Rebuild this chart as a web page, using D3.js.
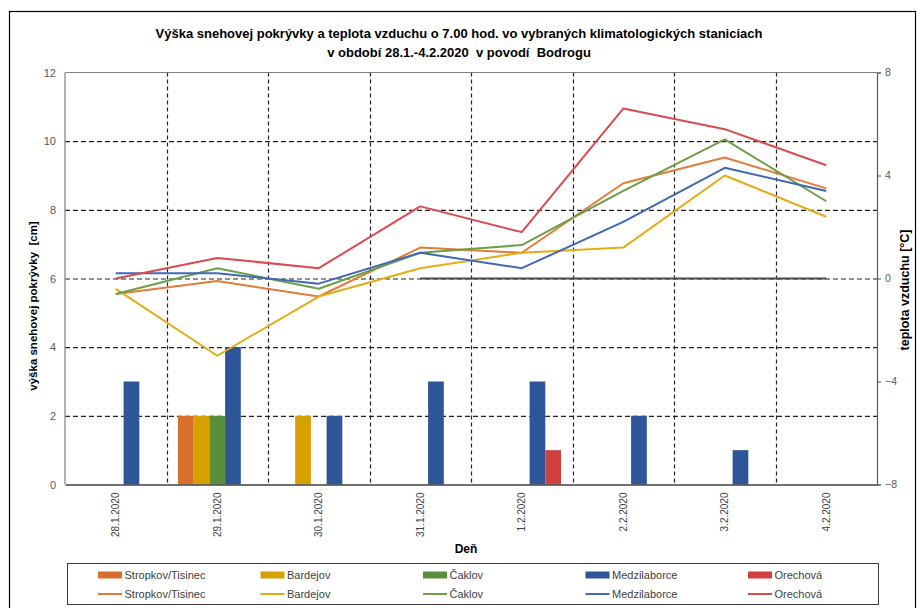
<!DOCTYPE html>
<html>
<head>
<meta charset="utf-8">
<script src="https://cdn.jsdelivr.net/npm/d3@7"></script>
<style>
  html, body { margin: 0; padding: 0; background: #fff; }
  svg { display: block; font-family: "Liberation Sans", Arial, sans-serif; }
  svg text { white-space: pre; }
</style>
</head>
<body>
<svg id="chart" width="920" height="608"></svg>
<script>
// Dni merania
const days = ["28.1.2020", "29.1.2020", "30.1.2020", "31.1.2020", "1.2.2020", "2.2.2020", "3.2.2020", "4.2.2020"];
const stations = ["Stropkov/Tisinec", "Bardejov", "Čaklov", "Medzilaborce", "Orechová"];

// Výška snehovej pokrývky [cm] (null = bez snehu)
const snowStropkov     = [null, 2, null, null, null, null, null, null];
const snowBardejov     = [null, 2, 2, null, null, null, null, null];
const snowCaklov       = [null, 2, null, null, null, null, null, null];
const snowMedzilaborce = [3, 4, 2, 3, 3, 2, 1, null];
const snowOrechova     = [null, null, null, null, 1, null, null, null];

// Teplota vzduchu o 7.00 hod. [°C]
const tempStropkov     = [-0.6, -0.1, -0.7, 1.2, 1.0, 3.7, 4.7, 3.5];
const tempBardejov     = [-0.4, -3.0, -0.7, 0.4, 1.0, 1.2, 4.0, 2.4];
const tempCaklov       = [-0.6, 0.4, -0.4, 1.0, 1.3, 3.4, 5.4, 3.0];
const tempMedzilaborce = [0.2, 0.2, -0.2, 1.0, 0.4, 2.2, 4.3, 3.4];
const tempOrechova     = [0.0, 0.8, 0.4, 2.8, 1.8, 6.6, 5.8, 4.4];
const zeroLine         = [null, null, null, 0, 0, 0, 0, 0];

const snowTicks = [0, 2, 4, 6, 8, 10, 12];
const tempTicks = [-8, -4, 0, 4, 8];

const snowSeries = [snowStropkov, snowBardejov, snowCaklov, snowMedzilaborce, snowOrechova];
const tempSeries = [tempStropkov, tempBardejov, tempCaklov, tempMedzilaborce, tempOrechova];
const barColors  = ["#D6702C", "#D6A100", "#5B8E3A", "#2E5597", "#D04040"];
const lineColors = ["#E27C3A", "#E2AC14", "#6C9E46", "#4068B4", "#DA4A4E"];

const svg = d3.select("#chart");
const plotL = 65, plotR = 877, plotT = 72.5, plotB = 484.5;

const x = d3.scaleBand().domain(days).range([plotL, plotR]).padding(0);
const xInner = d3.scaleBand().domain(stations).range([0, x.bandwidth()]).paddingInner(0).paddingOuter(0.73);
const ySnow = d3.scaleLinear().domain([0, 12]).range([plotB, plotT]);
const yTemp = d3.scaleLinear().domain([-8, 8]).range([plotB, plotT]);

// outer frame
svg.append("rect").attr("x", 9.5).attr("y", 11.5).attr("width", 906).attr("height", 610)
  .attr("fill", "none").attr("stroke", "#000").attr("stroke-width", 1.2);

// title
const title = svg.append("text").attr("text-anchor", "middle").attr("font-weight", "bold")
  .attr("font-size", 13).attr("fill", "#000");
title.append("tspan").attr("x", 459).attr("y", 38).text("Výška snehovej pokrývky a teplota vzduchu o 7.00 hod. vo vybraných klimatologických staniciach");
title.append("tspan").attr("x", 459).attr("y", 57).text("v období 28.1.-4.2.2020  v povodí  Bodrogu");

// horizontal dashed grid
svg.append("g").selectAll("line").data(snowTicks.filter(t => t > 0 && t < 12)).join("line")
  .attr("x1", plotL).attr("x2", plotR)
  .attr("y1", d => ySnow(d) + 0.5).attr("y2", d => ySnow(d) + 0.5)
  .attr("stroke", "#222").attr("stroke-width", 1.2).attr("stroke-dasharray", "5,3");

// vertical dashed grid at day boundaries
svg.append("g").selectAll("line").data(days.slice(1)).join("line")
  .attr("x1", d => Math.round(x(d)) + 0.5).attr("x2", d => Math.round(x(d)) + 0.5)
  .attr("y1", plotT).attr("y2", plotB)
  .attr("stroke", "#222").attr("stroke-width", 1.2).attr("stroke-dasharray", "4,3");

// bars: snow depth
const barGroups = svg.append("g").selectAll("g").data(snowSeries).join("g")
  .attr("fill", (d, i) => barColors[i]);
barGroups.each(function (vals, si) {
  d3.select(this).selectAll("rect").data(vals.map((v, di) => ({ v, day: days[di] })).filter(d => d.v != null))
    .join("rect")
    .attr("x", d => x(d.day) + xInner(stations[si]))
    .attr("width", xInner.bandwidth())
    .attr("y", d => ySnow(d.v))
    .attr("height", d => ySnow(0) - ySnow(d.v));
});

// zero temperature line
const lineGen = d3.line()
  .defined(d => d.v != null)
  .x(d => x(d.day) + x.bandwidth() / 2)
  .y(d => yTemp(d.v));
svg.append("path").datum(zeroLine.map((v, i) => ({ v, day: days[i] })))
  .attr("d", lineGen).attr("fill", "none").attr("stroke", "#4a4a4a").attr("stroke-width", 2);

// lines: air temperature
svg.append("g").selectAll("path").data(tempSeries).join("path")
  .attr("d", vals => lineGen(vals.map((v, i) => ({ v, day: days[i] }))))
  .attr("fill", "none").attr("stroke", (d, i) => lineColors[i]).attr("stroke-width", 2)
  .attr("stroke-linejoin", "round");

// plot border and axes
svg.append("line").attr("x1", plotL).attr("x2", plotR).attr("y1", plotT).attr("y2", plotT)
  .attr("stroke", "#808080").attr("stroke-width", 1.2);
svg.append("line").attr("x1", plotL).attr("x2", plotL).attr("y1", plotT).attr("y2", plotB)
  .attr("stroke", "#808080").attr("stroke-width", 1.2);

// left axis
const axL = svg.append("g").attr("transform", `translate(${plotL},0)`)
  .call(d3.axisLeft(ySnow).tickValues(snowTicks).tickSize(0).tickPadding(9));
axL.select(".domain").remove();
axL.selectAll("text").attr("font-size", 11).attr("fill", "#595959")
  .attr("font-family", "Liberation Sans, Arial, sans-serif");

// right axis
const axR = svg.append("g").attr("transform", `translate(${plotR},0)`)
  .call(d3.axisRight(yTemp).tickValues(tempTicks).tickSize(4).tickPadding(4));
axR.select(".domain").attr("stroke", "#595959").attr("stroke-width", 1.2);
axR.selectAll(".tick line").attr("stroke", "#595959");
axR.selectAll("text").attr("font-size", 10.5).attr("fill", "#595959")
  .attr("font-family", "Liberation Sans, Arial, sans-serif");

// bottom axis
const axB = svg.append("g").attr("transform", `translate(0,${plotB})`)
  .call(d3.axisBottom(x).tickSize(0).tickPadding(0));
axB.select(".domain").attr("stroke", "#404040").attr("stroke-width", 1.5);
axB.selectAll("text")
  .attr("transform", "rotate(-90)")
  .attr("text-anchor", "end")
  .attr("dy", "0.35em")
  .attr("x", -8).attr("y", 0)
  .attr("font-size", 10).attr("fill", "#404040")
  .attr("font-family", "Liberation Sans, Arial, sans-serif");

// axis titles
svg.append("text").attr("x", 466).attr("y", 553).attr("text-anchor", "middle")
  .attr("font-weight", "bold").attr("font-size", 12).text("Deň");
svg.append("text").attr("transform", "translate(37,306) rotate(-90)").attr("text-anchor", "middle")
  .attr("font-weight", "bold").attr("font-size", 11.5).text("výška snehovej pokrývky  [cm]");
svg.append("text").attr("transform", "translate(909,290) rotate(-90)").attr("text-anchor", "middle")
  .attr("font-weight", "bold").attr("font-size", 12.5).text("teplota vzduchu [°C]");

// legend
svg.append("rect").attr("x", 67.5).attr("y", 563.5).attr("width", 811).attr("height", 41)
  .attr("fill", "#fff").attr("stroke", "#404040").attr("stroke-width", 1);
const legX = d3.scalePoint().domain(stations).range([98, 748]);
const leg = svg.append("g").selectAll("g").data(stations).join("g")
  .attr("transform", d => `translate(${legX(d)},0)`);
leg.append("rect").attr("x", 0).attr("y", 571.5).attr("width", 24).attr("height", 7)
  .attr("fill", (d, i) => barColors[i]);
leg.append("line").attr("x1", 0).attr("x2", 24).attr("y1", 594).attr("y2", 594)
  .attr("stroke", (d, i) => lineColors[i]).attr("stroke-width", 2);
leg.append("text").attr("x", 26.5).attr("y", 575).attr("dy", "0.35em").attr("font-size", 11)
  .attr("fill", "#404040").text(d => d);
leg.append("text").attr("x", 26.5).attr("y", 594).attr("dy", "0.35em").attr("font-size", 11)
  .attr("fill", "#404040").text(d => d);
</script>
</body>
</html>
